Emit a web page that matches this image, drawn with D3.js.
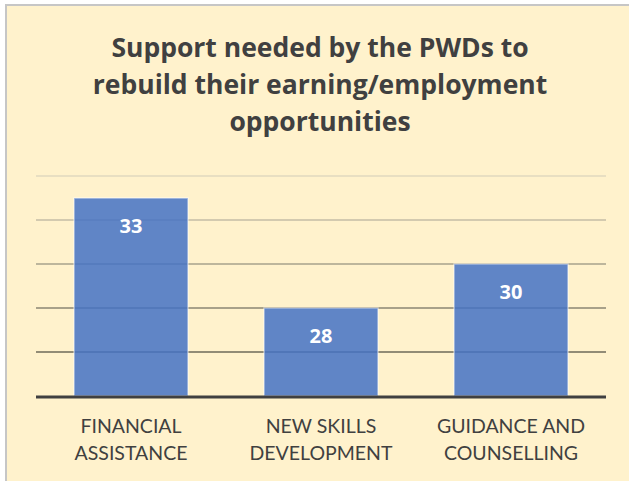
<!DOCTYPE html>
<html>
<head>
<meta charset="utf-8">
<script src="https://cdn.jsdelivr.net/npm/d3@7"></script>
<style>
  body { margin: 0; background: #fff; }
  text { font-family: Lato, "Open Sans", sans-serif; }
</style>
</head>
<body>
<script>
var width = 629,
  height = 481;

// data
var categories = ["FINANCIAL ASSISTANCE", "NEW SKILLS DEVELOPMENT", "GUIDANCE AND COUNSELLING"];
var categoryLines = [["FINANCIAL", "ASSISTANCE"], ["NEW SKILLS", "DEVELOPMENT"], ["GUIDANCE AND", "COUNSELLING"]];
var values = [33, 28, 30];
var yTicks = [26, 28, 30, 32, 34];
var titleLines = ["Support needed by the PWDs to", "rebuild their earning/employment", "opportunities"];

var svg = d3
  .select("body")
  .append("svg")
  .attr("width", width)
  .attr("height", height);

// chart frame
svg.append("rect")
  .attr("x", 6)
  .attr("y", 5)
  .attr("width", 660)
  .attr("height", 520)
  .attr("fill", "#FFF2CC")
  .attr("stroke", "#c6c6c6")
  .attr("stroke-width", 2);

var x = d3.scaleBand()
  .domain(categories)
  .range([36, 606])
  .paddingInner(0.4)
  .paddingOuter(0.2);

var y = d3.scaleLinear()
  .domain([24, 34])
  .range([396, 176]);

// gridlines get darker towards the bottom
var gridColor = d3.scaleLinear()
  .domain([26, 34])
  .range(["#928c76", "#e8dfc2"]);

svg.append("g")
  .selectAll("line")
  .data(yTicks)
  .enter()
  .append("line")
  .attr("x1", 36)
  .attr("x2", 606)
  .attr("y1", function (d) { return y(d); })
  .attr("y2", function (d) { return y(d); })
  .attr("stroke", function (d) { return gridColor(d); })
  .attr("stroke-width", 1.8);

// bars
svg.append("g")
  .selectAll("rect")
  .data(values)
  .enter()
  .append("rect")
  .attr("x", function (d, i) { return x(categories[i]); })
  .attr("y", function (d) { return y(d); })
  .attr("width", x.bandwidth())
  .attr("height", function (d) { return y(24) - y(d); })
  .attr("fill", "#4472C4")
  .attr("fill-opacity", 0.85)
  .attr("stroke", "#ffffff")
  .attr("stroke-opacity", 0.5)
  .attr("stroke-width", 1.5);

// baseline
svg.append("line")
  .attr("x1", 36)
  .attr("x2", 606)
  .attr("y1", y(24) + 1)
  .attr("y2", y(24) + 1)
  .attr("stroke", "#404040")
  .attr("stroke-width", 3);

// value labels
svg.append("g")
  .selectAll("text")
  .data(values)
  .enter()
  .append("text")
  .attr("x", function (d, i) { return x(categories[i]) + x.bandwidth() / 2; })
  .attr("y", function (d) { return y(d) + 35; })
  .attr("text-anchor", "middle")
  .style("font-family", "'Open Sans', sans-serif")
  .style("font-size", "20px")
  .style("font-weight", "bold")
  .style("fill", "#ffffff")
  .text(function (d) { return d; });

// category labels
var cat = svg.append("g")
  .selectAll("text")
  .data(categories)
  .enter()
  .append("text")
  .attr("text-anchor", "middle")
  .style("font-size", "19.5px")
  .style("fill", "#404040");
cat.each(function (d, i) {
  var t = d3.select(this);
  categoryLines[i].forEach(function (line, j) {
    t.append("tspan")
      .attr("x", x(d) + x.bandwidth() / 2)
      .attr("y", 433 + j * 27)
      .text(line);
  });
});

// title
svg.append("g")
  .selectAll("text")
  .data(titleLines)
  .enter()
  .append("text")
  .attr("x", 320)
  .attr("y", function (d, i) { return 57 + i * 37; })
  .attr("text-anchor", "middle")
  .style("font-family", "'Open Sans', sans-serif")
  .style("font-size", "26.5px")
  .style("font-weight", "bold")
  .style("fill", "#404040")
  .text(function (d) { return d; });
</script>
</body>
</html>
